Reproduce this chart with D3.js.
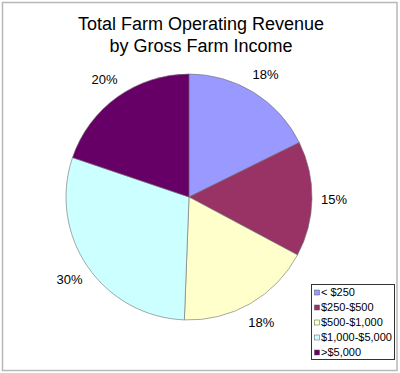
<!DOCTYPE html>
<html>
<head>
<meta charset="utf-8">
<script src="https://cdn.jsdelivr.net/npm/d3@7"></script>
<style>
  body { margin: 0; background: #fff; }
  text { font-family: Arial, "Liberation Sans", sans-serif; fill: #000; }
</style>
</head>
<body>
<div id="chart"></div>
<script>
// data
var categories = ['< $250', '$250-$500', '$500-$1,000', '$1,000-$5,000', '>$5,000']
var shares = [17.7, 15.1, 17.8, 29.6, 19.8]
var labels = ['18%', '15%', '18%', '30%', '20%']
var colors = ['#9999ff', '#993366', '#ffffcc', '#ccffff', '#660066']
var titleLines = ['Total Farm Operating Revenue', 'by Gross Farm Income']

var width = 400
var height = 373
var cx = 189
var cy = 197
var radius = 123

var svg = d3.select('#chart')
  .append('svg')
  .attr('width', width)
  .attr('height', height)

// outer frame
svg.append('rect')
  .attr('x', 2.5)
  .attr('y', 2.5)
  .attr('width', 394.5)
  .attr('height', 368)
  .attr('fill', '#fff')
  .attr('stroke', '#b8b8b8')
  .attr('stroke-width', 1.5)

svg.selectAll('.title')
  .data(titleLines)
  .enter()
  .append('text')
  .attr('class', 'title')
  .attr('x', 201)
  .attr('y', function (d, i) { return 30 + i * 22 })
  .attr('text-anchor', 'middle')
  .style('font-size', '18px')
  .text(function (d) { return d })

var pie = d3.pie().sort(null).value(function (d) { return d })
var arcs = pie(shares)

var arc = d3.arc().innerRadius(0).outerRadius(radius)
var labelArc = d3.arc().innerRadius(145).outerRadius(145)

var g = svg.append('g')
  .attr('transform', 'translate(' + cx + ',' + cy + ')')

g.selectAll('path')
  .data(arcs)
  .enter()
  .append('path')
  .attr('d', arc)
  .attr('fill', function (d, i) { return colors[i] })
  .attr('stroke', '#6e6e6e')
  .attr('stroke-width', 0.6)

g.selectAll('.lbl')
  .data(arcs)
  .enter()
  .append('text')
  .attr('class', 'lbl')
  .attr('transform', function (d) { return 'translate(' + labelArc.centroid(d) + ')' })
  .attr('text-anchor', 'middle')
  .attr('dy', '0.36em')
  .style('font-size', '13px')
  .text(function (d, i) { return labels[i] })

// legend
var legend = svg.append('g')
  .attr('transform', 'translate(311,284)')

legend.append('rect')
  .attr('x', 0.5)
  .attr('y', 0.5)
  .attr('width', 83)
  .attr('height', 75)
  .attr('fill', '#fff')
  .attr('stroke', '#333')
  .attr('stroke-width', 1)

var rowScale = d3.scaleBand()
  .domain(categories)
  .range([1, 76])

var rows = legend.selectAll('.row')
  .data(categories)
  .enter()
  .append('g')
  .attr('class', 'row')
  .attr('transform', function (d) { return 'translate(0,' + (rowScale(d) + rowScale.bandwidth() / 2) + ')' })

rows.append('rect')
  .attr('x', 3.5)
  .attr('y', -2.5)
  .attr('width', 5)
  .attr('height', 5)
  .attr('fill', function (d, i) { return colors[i] })
  .attr('stroke', '#555')
  .attr('stroke-width', 0.5)

rows.append('text')
  .attr('x', 10)
  .attr('dy', '0.36em')
  .style('font-size', '11px')
  .text(function (d) { return d })
</script>
</body>
</html>
